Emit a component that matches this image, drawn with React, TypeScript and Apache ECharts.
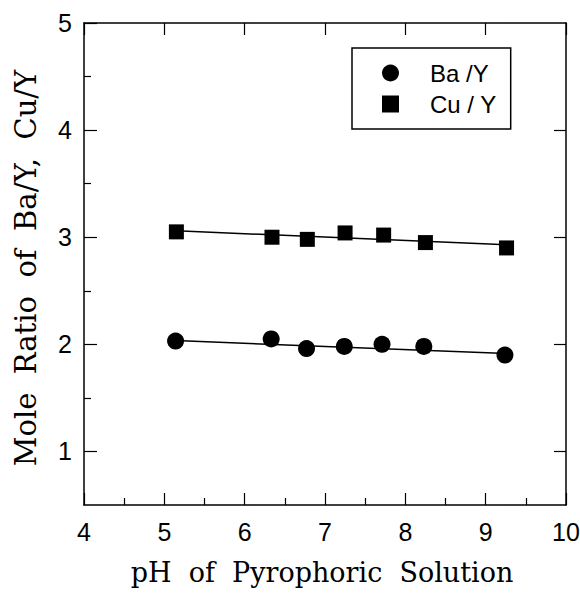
import React, { useEffect, useRef } from "react";
import * as echarts from "echarts";

const pH = [5.14, 6.33, 6.77, 7.24, 7.71, 8.23, 9.24];
const baY = [2.03, 2.05, 1.96, 1.98, 2.0, 1.98, 1.9];
const pHCu = [5.15, 6.34, 6.78, 7.25, 7.73, 8.25, 9.26];
const cuY = [3.05, 3.0, 2.98, 3.04, 3.02, 2.95, 2.9];
const baFit = [[5.14, 2.035], [9.26, 1.915]];
const cuFit = [[5.15, 3.06], [9.26, 2.93]];
const yMajor = [1, 2, 3, 4, 5];
const yMinor = [1.5, 2.5, 3.5, 4.5];
const xTitle = "pH  of  Pyrophoric  Solution";
const yTitle = "Mole  Ratio  of  Ba/Y,  Cu/Y";

export default function App() {
  const ref = useRef<HTMLDivElement>(null);
  useEffect(() => {
    const chart = echarts.init(ref.current!, null, { renderer: "svg" });
    const black = "#000";
    const sans = "'Liberation Sans', Arial, sans-serif";
    const serif = "'DejaVu Serif', 'Liberation Serif', serif";
    chart.setOption({
      animation: false,
      backgroundColor: "#fff",
      grid: { left: 84, right: 14, top: 23, bottom: 91, containLabel: false, outerBoundsMode: "none" },
      graphic: [
        {
          type: "text",
          x: 26,
          y: 268,
          rotation: Math.PI / 2,
          style: {
            text: yTitle,
            fontSize: 29,
            fontFamily: serif,
            fill: black,
            align: "center",
            verticalAlign: "middle",
            textAlign: "center",
            textVerticalAlign: "middle",
          },
        },
        {
          type: "text",
          x: 322,
          y: 572,
          style: {
            text: xTitle,
            fontSize: 27,
            fontFamily: serif,
            fill: black,
            align: "center",
            verticalAlign: "middle",
            textAlign: "center",
            textVerticalAlign: "middle",
          },
        },
      ],
      legend: {
        orient: "vertical",
        left: 352,
        top: 48,
        padding: [13, 14, 13, 30],
        borderColor: black,
        borderWidth: 1.5,
        itemWidth: 17,
        itemHeight: 17,
        itemGap: 7,
        data: ["Ba /Y", "Cu / Y"],
        textStyle: { fontSize: 24, fontFamily: sans, color: black, padding: [0, 0, 0, 26] },
      },
      xAxis: [
        {
          type: "value",
          min: 4,
          max: 10,
          interval: 1,
          axisLine: { show: true, lineStyle: { color: black, width: 1.5 } },
          axisTick: { show: true, inside: true, length: 12, lineStyle: { color: black, width: 1.2 } },
          minorTick: { show: true, splitNumber: 2, length: 7, lineStyle: { color: black, width: 1.2 } },
          axisLabel: { fontSize: 25, fontFamily: sans, color: black, margin: 14 },
          splitLine: { show: false },
        },
        {
          type: "value",
          position: "top",
          min: 4,
          max: 10,
          interval: 1,
          axisLine: { show: true, lineStyle: { color: black, width: 1.5 } },
          axisTick: { show: true, inside: true, length: 12, lineStyle: { color: black, width: 1.2 } },
          axisLabel: { show: false },
          splitLine: { show: false },
        },
      ],
      yAxis: [
        {
          type: "value",
          min: 0.5,
          max: 5,
          interval: 0.5,
          axisLine: { show: true, lineStyle: { color: black, width: 1.5 } },
          axisTick: { show: true, inside: true, length: 13, customValues: yMajor, lineStyle: { color: black, width: 1.2 } },
          axisLabel: { fontSize: 25, fontFamily: sans, color: black, margin: 12, customValues: yMajor },
          splitLine: { show: false },
        },
        {
          type: "value",
          position: "left",
          min: 0.5,
          max: 5,
          interval: 0.5,
          axisLine: { show: false },
          axisTick: { show: true, inside: true, length: 7, customValues: yMinor, lineStyle: { color: black, width: 1.2 } },
          axisLabel: { show: false },
          splitLine: { show: false },
        },
        {
          type: "value",
          position: "right",
          min: 0.5,
          max: 5,
          interval: 0.5,
          axisLine: { show: true, lineStyle: { color: black, width: 1.5 } },
          axisTick: { show: true, inside: true, length: 12, customValues: [1, 2, 3, 4], lineStyle: { color: black, width: 1.2 } },
          axisLabel: { show: false },
          splitLine: { show: false },
        },
      ],
      series: [
        {
          name: "Ba /Y-fit",
          type: "line",
          data: baFit,
          showSymbol: false,
          symbol: "none",
          lineStyle: { color: black, width: 1.5 },
          silent: true,
        },
        {
          name: "Cu / Y-fit",
          type: "line",
          data: cuFit,
          showSymbol: false,
          symbol: "none",
          lineStyle: { color: black, width: 1.5 },
          silent: true,
        },
        {
          name: "Ba /Y",
          type: "scatter",
          symbol: "circle",
          symbolSize: 17,
          itemStyle: { color: black, opacity: 1 },
          data: pH.map((x, i) => [x, baY[i]]),
        },
        {
          name: "Cu / Y",
          type: "scatter",
          symbol: "rect",
          symbolSize: 15,
          itemStyle: { color: black, opacity: 1 },
          data: pHCu.map((x, i) => [x, cuY[i]]),
        },
      ],
    });
    return () => chart.dispose();
  }, []);
  return (
    <div
      ref={ref}
      style={{ position: "fixed", left: 0, top: 0, width: 580, height: 596, background: "#fff" }}
    />
  );
}
